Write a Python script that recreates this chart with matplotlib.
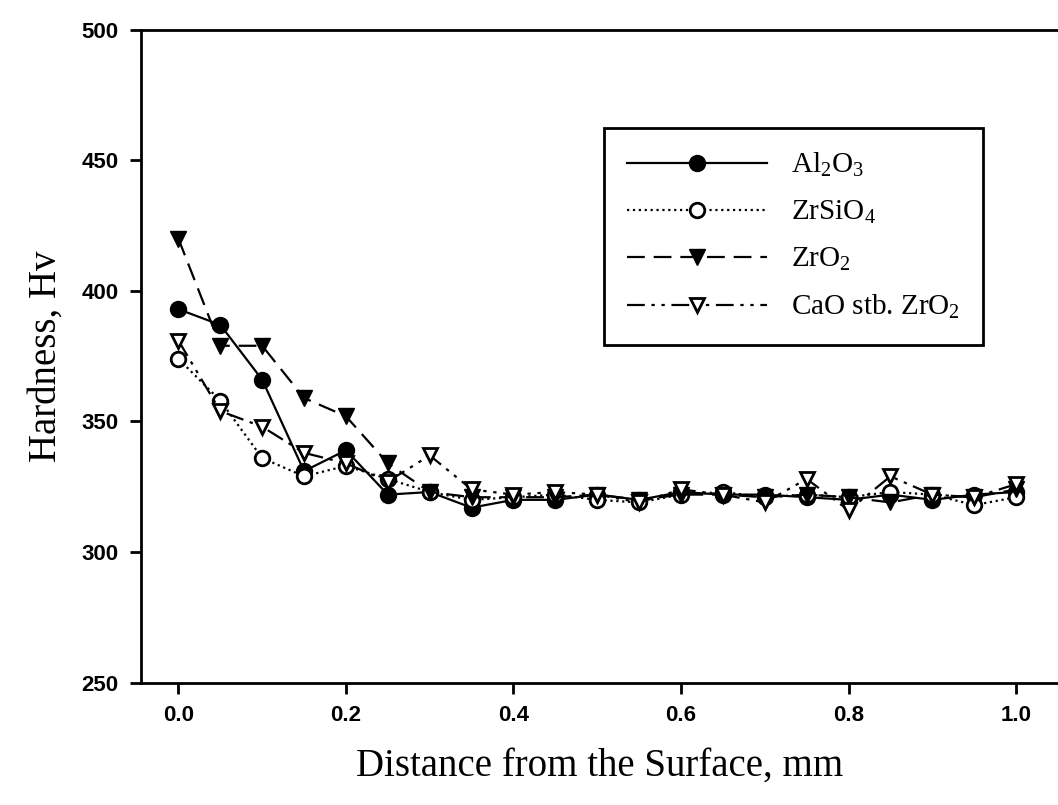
import numpy as np
import matplotlib
matplotlib.use('Agg')
import matplotlib.pyplot as plt

plt.rcParams['mathtext.fontset'] = 'custom'
plt.rcParams['mathtext.rm'] = 'Liberation Serif'
plt.rcParams['mathtext.it'] = 'Liberation Serif'

# distance from the surface (mm) and hardness (Hv) for each coating
dist = [0.0, 0.05, 0.10, 0.15, 0.20, 0.25, 0.30, 0.35, 0.40, 0.45, 0.50,
        0.55, 0.60, 0.65, 0.70, 0.75, 0.80, 0.85, 0.90, 0.95, 1.00]
al2o3 = [393, 387, 366, 331, 339, 322, 323, 317, 320, 320, 322,
         320, 323, 322, 322, 321, 320, 322, 320, 322, 323]
zrsio4 = [374, 358, 336, 329, 333, 328, 323, 320, 321, 322, 320,
          319, 322, 323, 321, 322, 321, 323, 322, 318, 321]
zro2 = [420, 379, 379, 359, 352, 334, 323, 321, 321, 321, 322,
        320, 322, 322, 321, 322, 321, 319, 322, 321, 324]
cao_zro2 = [381, 354, 348, 338, 334, 327, 337, 324, 322, 323, 322,
            319, 324, 322, 319, 328, 316, 329, 322, 321, 326]

labels = [r'Al$_2$O$_3$', r'ZrSiO$_4$', r'ZrO$_2$', r'CaO stb. ZrO$_2$']

fig = plt.figure(figsize=(10.58, 8.05), dpi=100)
ax = fig.add_axes([0.133, 0.152, 0.867, 0.811])

lw = 1.6
ax.plot(dist, al2o3, '-', color='k', lw=lw, marker='o', ms=11.5,
        mfc='k', mec='k', label=labels[0])
ax.plot(dist, zrsio4, ':', color='k', lw=lw, marker='o', ms=10.5,
        mfc='w', mec='k', mew=2, label=labels[1])
ax.plot(dist, zro2, color='k', lw=lw, dashes=(8, 4), marker='v', ms=11.5,
        mfc='k', mec='k', label=labels[2])
ax.plot(dist, cao_zro2, color='k', lw=lw, dashes=(8, 3, 1.5, 3, 1.5, 3),
        marker='v', ms=10.5, mfc='w', mec='k', mew=2, label=labels[3])

ax.set_xlim(-0.045, 1.05)
ax.set_ylim(250, 500)
ax.set_xticks(np.arange(0, 1.01, 0.2))
ax.set_xticklabels(['%.1f' % v for v in np.arange(0, 1.01, 0.2)])
ax.set_yticks(np.arange(250, 501, 50))

for s in ['left', 'bottom', 'top']:
    ax.spines[s].set_linewidth(2)
ax.spines['right'].set_visible(False)
ax.tick_params(direction='out', length=8, width=2, pad=8, top=False, right=False)
for t in ax.get_xticklabels() + ax.get_yticklabels():
    t.set_fontfamily('Liberation Sans')
    t.set_fontweight('bold')
    t.set_fontsize(16)

ax.set_xlabel('Distance from the Surface, mm', family='Liberation Serif',
              fontsize=28, labelpad=16)
ax.set_ylabel('Hardness, Hv', family='Liberation Serif', fontsize=28,
              labelpad=12)

leg = ax.legend(loc='upper left', bbox_to_anchor=(0.505, 0.85), numpoints=1,
                handlelength=4.8, handletextpad=0.8, labelspacing=0.68,
                borderpad=0.8, borderaxespad=0, fancybox=False,
                edgecolor='k', framealpha=1,
                prop={'family': 'Liberation Serif', 'size': 21})
leg.get_frame().set_linewidth(2)

fig.savefig('out.png', dpi=100)
